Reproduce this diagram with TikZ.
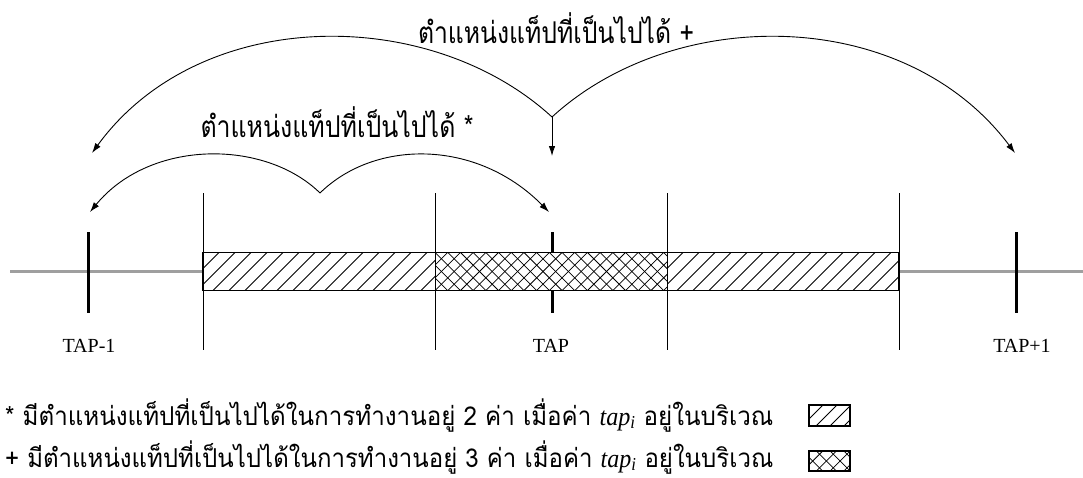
\documentclass[tikz,border=0pt]{standalone}
\usepackage{fontspec}
\setmainfont{Liberation Serif}
\newfontfamily\thaifont[Script=Thai]{Loma}
\usetikzlibrary{arrows.meta}
\newcommand\thlab[3]{\resizebox{#1}{\height}{\thaifont\fontsize{#2}{#2}\selectfont #3}}
\newcommand\tapi{{\rmfamily\itshape tap\textsubscript{i}}}
\begin{document}
\begin{tikzpicture}[x=1pt,y=-1pt,
  arcline/.style={line width=0.9pt,-{Latex[length=10pt,width=6.5pt]}},
  axisline/.style={line width=3pt,gray!75},
  tick/.style={line width=3pt,black},
  vline/.style={line width=1pt,black},
  hatch/.style={line width=1pt,black},
  barframe/.style={line width=1.5pt,black},
  taplabel/.style={inner sep=0pt,anchor=base,font=\fontsize{20}{22}\selectfont},
  thailabel/.style={inner sep=0pt,anchor=base},
  legendbox/.style={line width=1.5pt,black}]
\useasboundingbox (0,0) rectangle (1083,477);
% axis
\coordinate (axL) at (10,271);
\coordinate (axR) at (1083,271);
\draw[axisline] (axL) -- (axR);
% ticks
\coordinate (tm1) at (88,232);  \coordinate (tm1b) at (88,313);
\coordinate (t0)  at (552,232); \coordinate (t0b)  at (552,313);
\coordinate (tp1) at (1016,232);\coordinate (tp1b) at (1016,313);
\draw[tick] (tm1) -- (tm1b);
\draw[tick] (t0) -- (t0b);
\draw[tick] (tp1) -- (tp1b);
% bar
\fill[white] (203,252.5) rectangle (899,290.5);
\begin{scope}
  \clip (203,252.5) rectangle (435,290.5);
  \foreach \k in {0,...,17} \draw[hatch] ({165+16*\k},290.5) -- ++(38,-38);
\end{scope}
\begin{scope}
  \clip (435,252.5) rectangle (667,290.5);
  \foreach \k in {0,...,22} {
    \draw[hatch,line width=0.75pt] ({397+12.7*\k},290.5) -- ++(38,-38);
    \draw[hatch,line width=0.75pt] ({397+12.7*\k},252.5) -- ++(38,38);
  }
\end{scope}
\begin{scope}
  \clip (667,252.5) rectangle (899,290.5);
  \foreach \k in {0,...,17} \draw[hatch] ({629+16*\k},290.5) -- ++(38,-38);
\end{scope}
\draw[barframe] (203,252.5) rectangle (899,290.5);
% vertical boundaries
\foreach \x/\n in {203/a,435/b,667/c,899/d} {
  \coordinate (v\n t) at (\x,193);
  \coordinate (v\n b) at (\x,350);
  \draw[vline] (v\n t) -- (v\n b);
}
% tap labels
\node[taplabel] (lm1) at (89,352) {TAP-1};
\node[taplabel] (l0)  at (551,352) {TAP};
\node[taplabel] (lp1) at (1022,352) {TAP+1};
% big arcs
\coordinate (J) at (552,117);
\coordinate (JL) at (92,153);
\coordinate (JR) at (1015,153);
\coordinate (JD) at (552,156);
\draw[arcline] (J) .. controls (430,5) and (200,5) .. (JL);
\draw[arcline] (J) .. controls (674,5) and (904,5) .. (JR);
\draw[arcline] (J) -- (JD);
\node[thailabel] (bigl) at (556,43) {\thlab{276pt}{30}{ตำแหน่งแท็ปที่เป็นไปได้ +}};
% small arcs
\coordinate (j) at (320,193);
\coordinate (jl) at (90,212);
\coordinate (jr) at (549,212);
\draw[arcline] (j) .. controls (265,139) and (150,139) .. (jl);
\draw[arcline] (j) .. controls (375,139) and (477,139) .. (jr);
\node[thailabel] (smalll) at (337,137) {\thlab{273pt}{30}{ตำแหน่งแท็ปที่เป็นไปได้ *}};
% legend
\node[thailabel,anchor=base west] (leg1) at (5,425) {\thlab{768pt}{26}{* มีตำแหน่งแท็ปที่เป็นไปได้ในการทำงานอยู่ 2 ค่า เมื่อค่า \tapi{} อยู่ในบริเวณ}};
\node[thailabel,anchor=base west] (leg2) at (5,467) {\thlab{768pt}{26}{+ มีตำแหน่งแท็ปที่เป็นไปได้ในการทำงานอยู่ 3 ค่า เมื่อค่า \tapi{} อยู่ในบริเวณ}};
\begin{scope}
  \clip (809,405) rectangle (850,426);
  \foreach \k in {0,...,4} \draw[hatch] ({788+14*\k},426) -- ++(21,-21);
\end{scope}
\draw[legendbox] (809,405) rectangle (850,426);
\begin{scope}
  \clip (809,451) rectangle (850,471);
  \foreach \k in {0,...,5} {
    \draw[hatch,line width=0.75pt] ({789+13.7*\k},471) -- ++(20,-20);
    \draw[hatch,line width=0.75pt] ({789+13.7*\k},451) -- ++(20,20);
  }
\end{scope}
\draw[legendbox] (809,451) rectangle (850,471);
\end{tikzpicture}
\end{document}
